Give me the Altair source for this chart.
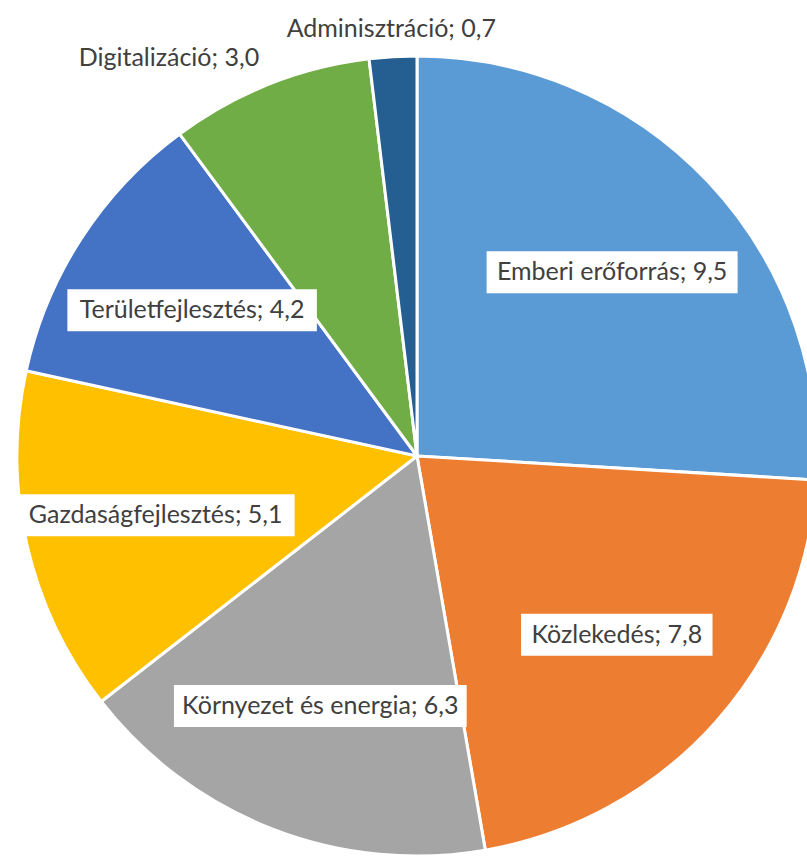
import altair as alt
import numpy as np
import pandas as pd

categories = ["Emberi erőforrás", "Közlekedés", "Környezet és energia",
              "Gazdaságfejlesztés", "Területfejlesztés", "Digitalizáció", "Adminisztráció"]
values = [9.5, 7.8, 6.3, 5.1, 4.2, 3.0, 0.7]
colors = ["#5B9BD5", "#ED7D31", "#A5A5A5", "#FFC000", "#4472C4", "#70AD47", "#255E91"]

FONT = "Lato"
FS = 25
PX = 400.0            # pixels per data unit (= pie radius)
PAD = 22.0
BOX_H = 42.0

# rough per-character advance widths (em) used only to size the label boxes
EM = {}
for ch in "ilj": EM[ch] = 0.25
for ch in " ": EM[ch] = 0.2
for ch in ";,.": EM[ch] = 0.25
for ch in "ft": EM[ch] = 0.33
EM["r"] = 0.37
for ch in "0123456789": EM[ch] = 0.58
EM["m"] = 0.83
EM["w"] = 0.78
for ch in "zsy": EM[ch] = 0.46
for ch in "EKT": EM[ch] = 0.57
for ch in "GDA": EM[ch] = 0.68


def text_w(s):
    return sum(EM.get(c, 0.53) for c in s) * FS


vals = np.array(values)
total = vals.sum()
mid = (np.cumsum(vals) - vals / 2) / total * 2 * np.pi
share = vals / total
inside = share > 0.10
r = np.where(inside, 0.67, 1.07)
labels = [f"{c}; {('%.1f' % v).replace('.', ',')}" for c, v in zip(categories, values)]

df = pd.DataFrame({
    "cat": categories, "value": values, "color": colors, "order": range(len(values)),
    "label": labels,
    "lx": r * np.sin(mid), "ly": r * np.cos(mid),
})
df["hw"] = df["label"].map(lambda s: (text_w(s) + PAD) / 2 / PX)
df["x1"] = df["lx"] - df["hw"]
df["x2"] = df["lx"] + df["hw"]
df["y1"] = df["ly"] - BOX_H / 2 / PX
df["y2"] = df["ly"] + BOX_H / 2 / PX
sinv = np.sin(mid)
df["align"] = np.where(inside, "center",
                       np.where(np.abs(sinv) < 0.15, "center", np.where(sinv < 0, "right", "left")))

xs = alt.Scale(domain=[-417 / PX, 390 / PX], nice=False, zero=False)
ys = alt.Scale(domain=[-400 / PX, 456 / PX], nice=False, zero=False)

pie = alt.Chart(df).mark_arc(outerRadius=400, stroke="white", strokeWidth=3).encode(
    x=alt.X(datum=0, type="quantitative", scale=xs, axis=None),
    y=alt.Y(datum=0, type="quantitative", scale=ys, axis=None),
    theta=alt.Theta("value:Q", stack=True),
    order=alt.Order("order:Q"),
    color=alt.Color("color:N", scale=None),
)

din = df[inside]
boxes = alt.Chart(din).mark_rect(color="white").encode(
    x=alt.X("x1:Q", scale=xs, axis=None), x2="x2:Q",
    y=alt.Y("y1:Q", scale=ys, axis=None), y2="y2:Q",
)

layers = [pie, boxes]
for al in ["center", "right", "left"]:
    sub = df[df["align"] == al]
    if len(sub) == 0:
        continue
    layers.append(
        alt.Chart(sub).mark_text(font=FONT, fontSize=FS, color="#404040", align=al,
                                 baseline="middle").encode(
            x=alt.X("lx:Q", scale=xs, axis=None),
            y=alt.Y("ly:Q", scale=ys, axis=None),
            text="label:N",
        )
    )

chart = alt.layer(*layers).properties(
    width=807, height=856, padding=0, autosize=alt.AutoSizeParams(type="none"),
    background="white",
).configure_view(stroke=None)

chart.save("out.html", embed_options={"renderer": "svg", "actions": False})
